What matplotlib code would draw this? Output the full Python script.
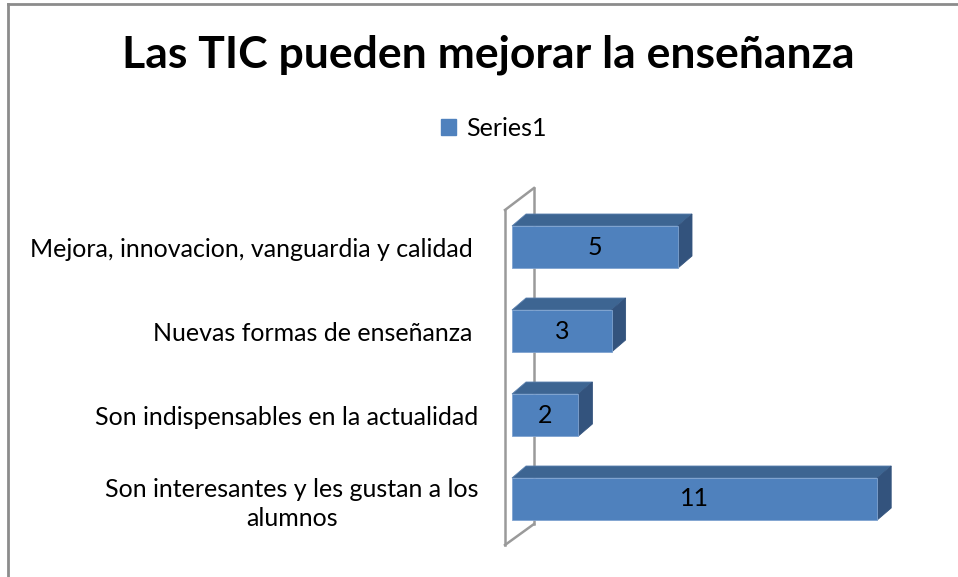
import matplotlib.pyplot as plt
from matplotlib.patches import Polygon, Patch
from matplotlib.lines import Line2D

plt.rcParams['font.family'] = ['Lato', 'DejaVu Sans']

# data (bottom to top)
categories = ["Son interesantes y les gustan a los\nalumnos",
              "Son indispensables en la actualidad",
              "Nuevas formas de enseñanza ",
              "Mejora, innovacion, vanguardia y calidad "]
values = [11, 2, 3, 5]
series_name = "Series1"
title = "Las TIC pueden mejorar la enseñanza"

front_c = "#4F81BD"
top_c = "#3D6592"
side_c = "#33537D"

W, H = 958, 577
fig = plt.figure(figsize=(W / 100, H / 100), dpi=100)

# axes placed in pixel terms: x=0 at px 512, 33.2 px per unit; row spacing 84 px
px_x = 33.2
px_y = 84.0
ax_left, ax_right = 512, 512 + 12 * px_x
ax_top, ax_bot = 170, 560
ax = fig.add_axes([ax_left / W, 1 - ax_bot / H, (ax_right - ax_left) / W, (ax_bot - ax_top) / H])
ylo = -(ax_bot - 499) / px_y
ax.set_xlim(0, 12)
ax.set_ylim(ylo, ylo + (ax_bot - ax_top) / px_y)

dx = 14 / px_x
dy = 12 / px_y
bh = 42 / px_y

# wall (thin gray outline)
wall_c = "#9A9A9A"
fx, bx = -7 / px_x, 22 / px_x
f_top, f_bot = ylo + (ax_bot - 210) / px_y, ylo + (ax_bot - 545) / px_y
b_top, b_bot = ylo + (ax_bot - 188) / px_y, ylo + (ax_bot - 524) / px_y
for xs, ys in [([fx, fx], [f_bot, f_top]), ([bx, bx], [b_bot, b_top]),
               ([fx, bx], [f_top, b_top]), ([fx, bx], [f_bot, b_bot])]:
    ax.add_line(Line2D(xs, ys, color=wall_c, lw=1.8, clip_on=False, zorder=1))

for i, v in enumerate(values):
    y0, y1 = i - bh / 2, i + bh / 2
    ax.barh(i, v, height=bh, left=0, color=front_c, edgecolor="#7FA3D0", lw=0.6, zorder=3)
    ax.add_patch(Polygon([(0, y1), (v, y1), (v + dx, y1 + dy), (dx, y1 + dy)],
                         closed=True, fc=top_c, ec="#5A80AE", lw=0.6, zorder=2, clip_on=False))
    ax.add_patch(Polygon([(v, y0), (v + dx, y0 + dy), (v + dx, y1 + dy), (v, y1)],
                         closed=True, fc=side_c, ec=side_c, lw=0.6, zorder=2, clip_on=False))
    ax.text(v / 2, i, str(v), ha="center", va="center", fontsize=18, color="black", zorder=4)

ax.set_yticks(range(len(categories)))
ax.set_yticklabels(categories, fontsize=18, multialignment="center", linespacing=1.3)
ax.tick_params(axis="y", length=0, pad=24)
ax.set_xticks([])
for s in ax.spines.values():
    s.set_visible(False)
ax.patch.set_visible(False)

fig.text(488 / W, 1 - 55 / H, title, ha="center", va="center", fontsize=32, fontweight="bold")
fig.legend(handles=[Patch(color=front_c, label=series_name)], loc="center",
           bbox_to_anchor=(494 / W, 1 - 128 / H), frameon=False, fontsize=18,
           handlelength=0.6, handleheight=0.6, handletextpad=0.4)

# outer chart border (top and left visible)
fig.add_artist(Line2D([8 / W, 8 / W], [0, 1 - 4 / H], color="#8C8C8C", lw=2))
fig.add_artist(Line2D([8 / W, 1], [1 - 4 / H, 1 - 4 / H], color="#8C8C8C", lw=2))

fig.savefig("out.png", dpi=100)
